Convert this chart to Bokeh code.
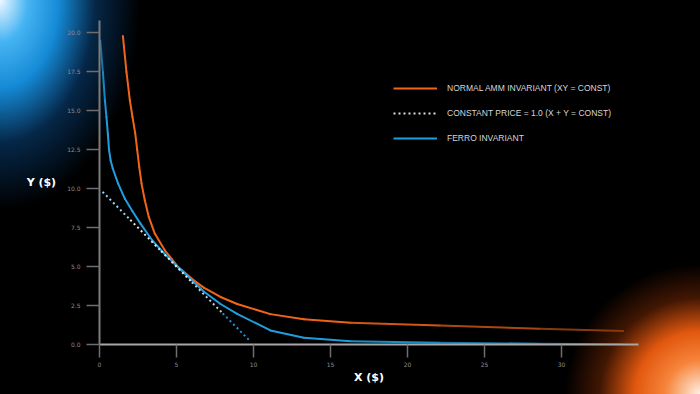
import numpy as np
from bokeh.plotting import figure
from bokeh.models import Range1d, Legend, LegendItem, FixedTicker, NumeralTickFormatter
from bokeh.embed import file_html
from bokeh.resources import INLINE

# ---- data ----
amm_x = [1.52, 1.75, 1.97, 2.14, 2.32, 2.45, 2.58, 2.73, 2.94, 3.2, 3.59, 4.24, 5.11, 6.08, 6.77, 7.86, 8.94, 11.1, 13.27, 16.3, 22.1, 28.6, 34.0]
amm_y = [19.8, 17.5, 15.69, 14.62, 13.55, 12.48, 11.4, 10.33, 9.26, 8.19, 7.12, 6.05, 4.97, 4.15, 3.65, 3.05, 2.6, 1.95, 1.62, 1.40, 1.22, 1.01, 0.86]

ferro_x = [0.05, 0.22, 0.35, 0.45, 0.54, 0.62, 0.72, 0.86, 1.21, 1.65, 2.14, 2.66, 3.42, 4.2, 5.0, 5.87, 6.77, 7.86, 8.94, 11.1, 13.27, 16.3, 22.1, 28.6, 34.0]
ferro_y = [19.5, 17.5, 15.69, 14.62, 13.55, 12.48, 11.83, 11.3, 10.33, 9.35, 8.55, 7.76, 6.69, 5.85, 5.05, 4.25, 3.4, 2.6, 1.97, 0.90, 0.43, 0.21, 0.12, 0.05, 0.02]

price_x = [0.2, 2.0, 4.0, 6.0, 8.0, 9.8]
price_y = [9.8, 8.0, 6.0, 4.0, 2.0, 0.2]

x_ticks = [0, 5, 10, 15, 20, 25, 30]
y_ticks = [0.0, 2.5, 5.0, 7.5, 10.0, 12.5, 15.0, 17.5, 20.0]

legend_labels = ["NORMAL AMM INVARIANT (XY = CONST)",
                 "CONSTANT PRICE = 1.0 (X + Y = CONST)",
                 "FERRO INVARIANT"]

ORANGE = "#f26419"
BLUE = "#1f9fe0"


def shade(hexcol, f):
    h = hexcol.lstrip("#")
    r, g, b = (int(h[i:i + 2], 16) for i in (0, 2, 4))
    return "#%02x%02x%02x" % (int(r * f), int(g * f), int(b * f))


def segs(xs, ys):
    return xs[:-1], ys[:-1], xs[1:], ys[1:]


p = figure(width=700, height=394, output_backend="svg", toolbar_location=None,
           x_range=Range1d(0, 35), y_range=Range1d(0, 20.8),
           min_border_left=99, min_border_right=62, min_border_top=20, min_border_bottom=50)
p.background_fill_alpha = 0
p.border_fill_alpha = 0
p.outline_line_color = None
p.grid.visible = False
p.styles = {
    "background": ("radial-gradient(ellipse 140px 210px at 0% 0%, #eef9ff 0%, #46b4f3 20%, #158ad6 42%, "
                   "rgba(8,60,110,0.65) 68%, rgba(0,0,0,0) 100%), "
                   "radial-gradient(ellipse 135px 130px at 100% 100%, #fff0e4 0%, #f6843a 26%, #e2580f 48%, "
                   "rgba(110,38,5,0.6) 74%, rgba(0,0,0,0) 100%), #000000")
}

# orange curve (fading to the right)
ox0, oy0, ox1, oy1 = segs(amm_x, amm_y)
ocol = [shade(ORANGE, 1 - 0.5 * min(max(((a + b) / 2 - 14) / 20, 0), 1)) for a, b in zip(ox0, ox1)]
p.segment(ox0, oy0, ox1, oy1, line_color=ocol, line_width=2, line_cap="round")

# blue curve
bx0, by0, bx1, by1 = segs(ferro_x, ferro_y)
bcol = []
for a, b, c, d in zip(bx0, bx1, by0, by1):
    f = 1 - 0.45 * min(max(((a + b) / 2 - 14) / 20, 0), 1)
    f *= 1 - 0.35 * min(max(((c + d) / 2 - 14) / 6, 0), 1)
    bcol.append(shade(BLUE, f))
p.segment(bx0, by0, bx1, by1, line_color=bcol, line_width=2, line_cap="round")

# dotted constant price line
px0, py0, px1, py1 = segs(price_x, price_y)
pcol = ["#9ad6f2", "#e8e8e8", "#eeeeee", "#b9d3e0", "#2c8fc6"]
p.segment(px0, py0, px1, py1, line_color=pcol, line_width=2, line_dash="2 3")

# legend proxies
nan = [float("nan")]
r1 = p.line(nan, nan, line_color=ORANGE, line_width=2)
r2 = p.line(nan, nan, line_color="#d8dde0", line_width=2, line_dash="2 3")
r3 = p.line(nan, nan, line_color=BLUE, line_width=2)
legend = Legend(items=[LegendItem(label=legend_labels[0], renderers=[r1]),
                       LegendItem(label=legend_labels[1], renderers=[r2]),
                       LegendItem(label=legend_labels[2], renderers=[r3])],
                location=(294, 196))
legend.background_fill_alpha = 0
legend.border_line_color = None
legend.padding = 0
legend.margin = 0
legend.glyph_width = 44
legend.glyph_height = 20
legend.label_height = 20
legend.label_standoff = 10
legend.spacing = 5
legend.label_text_color = "#d6d6d6"
legend.label_text_font = "Liberation Sans"
legend.label_text_font_size = "8.5px"
p.add_layout(legend)

# axes
for ax in (p.xaxis[0], p.yaxis[0]):
    ax.axis_line_width = 2
    ax.major_tick_line_color = "#6e6e6e"
    ax.major_tick_line_width = 1.5
    ax.major_tick_out = 13
    ax.major_tick_in = 0
    ax.minor_tick_out = 0
    ax.minor_tick_in = 0
    ax.major_label_text_color = "#8e8e8e"
    ax.major_label_text_font = "DejaVu Sans"
    ax.major_label_text_font_size = "6px"
    ax.axis_label_text_color = "#ffffff"
    ax.axis_label_text_font = "DejaVu Sans"
    ax.axis_label_text_font_style = "bold"
    ax.axis_label_text_font_size = "11px"

p.xaxis.ticker = FixedTicker(ticks=x_ticks)
p.xaxis.axis_line_color = "#a8a8a8"
p.xaxis.major_label_standoff = 4
p.xaxis.axis_label = "X ($)"
p.xaxis.axis_label_standoff = 1

p.yaxis.ticker = FixedTicker(ticks=y_ticks)
p.yaxis.formatter = NumeralTickFormatter(format="0.0")
p.yaxis.axis_line_color = "#7c7c7c"
p.yaxis.major_label_standoff = 6
p.yaxis.axis_label = "Y ($)"
p.yaxis.axis_label_orientation = "horizontal"
p.yaxis.axis_label_standoff = 8

open("out.html", "w").write(file_html(p, INLINE))
